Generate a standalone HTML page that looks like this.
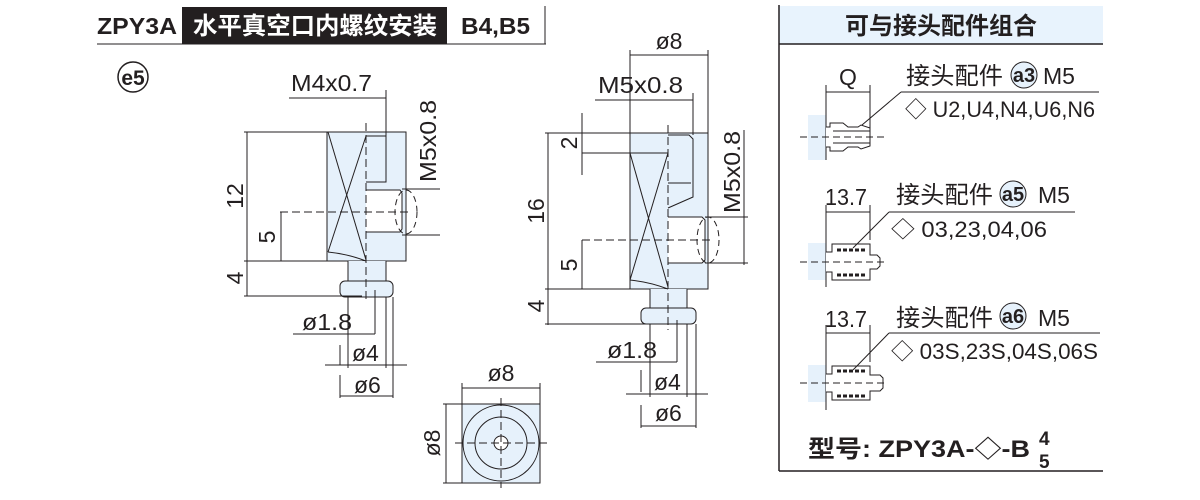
<!DOCTYPE html>
<html><head><meta charset="utf-8"><style>
html,body{margin:0;padding:0;background:#fff;width:1200px;height:500px;overflow:hidden}
svg{display:block}
text{font-family:"Liberation Sans","Noto Sans CJK SC",sans-serif;fill:#231f20}
</style></head><body>
<svg width="1200" height="500" viewBox="0 0 1200 500" xmlns="http://www.w3.org/2000/svg">
<g stroke="#231f20" fill="none" stroke-width="1">
<line x1="97" y1="44" x2="546" y2="44"/>
<line x1="545" y1="6" x2="545" y2="44"/>
</g>
<rect x="182" y="7" width="265" height="37" fill="#231f20"/>
<text x="97" y="34" font-size="23" font-weight="bold" textLength="80" lengthAdjust="spacingAndGlyphs">ZPY3A</text>
<text x="193" y="34" font-size="24" font-weight="bold" style="fill:#fff" textLength="244" lengthAdjust="spacingAndGlyphs">水平真空口内螺纹安装</text>
<text x="461" y="34" font-size="23" font-weight="bold" textLength="69" lengthAdjust="spacingAndGlyphs">B4,B5</text>
<circle cx="133" cy="77" r="15" fill="none" stroke="#231f20" stroke-width="1.5"/>
<text x="133" y="85" font-size="21" font-weight="bold" text-anchor="middle">e5</text>

<!-- Drawing 1 -->
<g stroke="#231f20" stroke-width="1" fill="none">
<rect x="327" y="132" width="79" height="129" fill="#e6f1fb"/>
<rect x="348" y="261" width="38" height="22" fill="#e6f1fb" stroke="none"/>
<line x1="348" y1="261" x2="348" y2="282"/><line x1="386" y1="261" x2="386" y2="282"/>
<rect x="340" y="281" width="53" height="16" rx="5" fill="#e6f1fb"/>
<line x1="328" y1="132" x2="366" y2="260"/><line x1="366" y1="136" x2="328" y2="252"/>
<path d="M328 252 Q348 254 366 261"/>
<path d="M366 136 L386 136 L386 182 L366 182"/>
<path d="M366 190 L400 190 L402 193 L402 229 L400 232 L366 232" fill="#fff"/>
<ellipse cx="406" cy="212" rx="11" ry="22" stroke-dasharray="6,4"/>
<line x1="366" y1="123" x2="366" y2="302" stroke-dasharray="8,4"/>
<line x1="280" y1="212" x2="412" y2="212" stroke-dasharray="8,4"/>
<line x1="247" y1="132" x2="247" y2="296"/>
<line x1="244" y1="132" x2="327" y2="132"/>
<line x1="244" y1="261" x2="340" y2="261"/>
<line x1="244" y1="296" x2="362" y2="296"/>
<line x1="281" y1="212" x2="281" y2="261"/>
<line x1="289" y1="98" x2="386" y2="98"/><line x1="386" y1="90" x2="386" y2="136"/>
<line x1="402" y1="189" x2="440" y2="189"/><line x1="402" y1="235" x2="440" y2="235"/>
<line x1="293" y1="334" x2="375" y2="334"/><line x1="375" y1="290" x2="375" y2="334"/>
<line x1="340" y1="345" x2="340" y2="365"/><line x1="340" y1="375" x2="340" y2="398"/>
<line x1="348" y1="297" x2="348" y2="368"/>
<line x1="386" y1="297" x2="386" y2="368"/>
<line x1="393" y1="297" x2="393" y2="398"/>
<line x1="325" y1="365" x2="407" y2="365"/>
<line x1="340" y1="396" x2="393" y2="396"/>
</g>
<text x="291" y="91" font-size="23" textLength="81" lengthAdjust="spacingAndGlyphs">M4x0.7</text>
<text font-size="23" transform="translate(243,196) rotate(-90)" text-anchor="middle">12</text>
<text font-size="23" transform="translate(275,237) rotate(-90)" text-anchor="middle">5</text>
<text font-size="23" transform="translate(243,278) rotate(-90)" text-anchor="middle">4</text>
<text font-size="23" transform="translate(436,141) rotate(-90)" text-anchor="middle" textLength="82" lengthAdjust="spacingAndGlyphs">M5x0.8</text>
<text x="302" y="330" font-size="23" textLength="50" lengthAdjust="spacingAndGlyphs">ø1.8</text>
<text x="352" y="361" font-size="23">ø4</text>
<text x="354" y="393" font-size="23">ø6</text>

<!-- Drawing 2 -->
<g stroke="#231f20" stroke-width="1" fill="none">
<rect x="630" y="133" width="78" height="156" fill="#e6f1fb"/>
<rect x="650" y="289" width="37" height="21" fill="#e6f1fb" stroke="none"/>
<line x1="650" y1="289" x2="650" y2="309"/><line x1="687" y1="289" x2="687" y2="309"/>
<rect x="641" y="308" width="55" height="16" rx="5" fill="#e6f1fb"/>
<line x1="582" y1="153" x2="668" y2="153"/>
<line x1="630" y1="153" x2="668" y2="287"/><line x1="668" y1="153" x2="630" y2="280"/>
<path d="M630 280 Q650 282 668 289"/>
<path d="M668 135 L689 135 L693 139 L693 197 L668 208"/>
<line x1="668" y1="183" x2="691" y2="183"/>
<path d="M668 217 L702 217 L705 220 L705 260 L702 263 L668 263" fill="#fff"/>
<ellipse cx="708" cy="240" rx="11" ry="23" stroke-dasharray="6,4"/>
<line x1="668" y1="125" x2="668" y2="330" stroke-dasharray="8,4"/>
<line x1="582" y1="240" x2="714" y2="240" stroke-dasharray="8,4"/>
<line x1="548" y1="133" x2="548" y2="325"/>
<line x1="545" y1="133" x2="630" y2="133"/>
<line x1="545" y1="289" x2="641" y2="289"/>
<line x1="545" y1="324" x2="660" y2="324"/>
<line x1="582" y1="113" x2="582" y2="175"/>
<line x1="582" y1="240" x2="582" y2="289"/>
<line x1="630" y1="55" x2="708" y2="55"/><line x1="630" y1="50" x2="630" y2="133"/><line x1="708" y1="50" x2="708" y2="133"/>
<line x1="595" y1="100" x2="693" y2="100"/><line x1="693" y1="93" x2="693" y2="135"/>
<line x1="744" y1="130" x2="744" y2="265"/>
<line x1="705" y1="217" x2="748" y2="217"/><line x1="705" y1="263" x2="748" y2="263"/>
<line x1="596" y1="362" x2="677" y2="362"/><line x1="677" y1="320" x2="677" y2="362"/>
<line x1="641" y1="370" x2="641" y2="392"/><line x1="641" y1="405" x2="641" y2="428"/>
<line x1="650" y1="324" x2="650" y2="397"/>
<line x1="687" y1="324" x2="687" y2="397"/>
<line x1="696" y1="324" x2="696" y2="428"/>
<line x1="626" y1="394" x2="708" y2="394"/>
<line x1="641" y1="426" x2="696" y2="426"/>
</g>
<text x="669" y="49" font-size="23" text-anchor="middle">ø8</text>
<text x="598" y="93" font-size="23" textLength="85" lengthAdjust="spacingAndGlyphs">M5x0.8</text>
<text font-size="23" transform="translate(577,143) rotate(-90)" text-anchor="middle">2</text>
<text font-size="23" transform="translate(544,211) rotate(-90)" text-anchor="middle">16</text>
<text font-size="23" transform="translate(577,265) rotate(-90)" text-anchor="middle">5</text>
<text font-size="23" transform="translate(544,306) rotate(-90)" text-anchor="middle">4</text>
<text font-size="23" transform="translate(740,172) rotate(-90)" text-anchor="middle" textLength="82" lengthAdjust="spacingAndGlyphs">M5x0.8</text>
<text x="607" y="358" font-size="23" textLength="50" lengthAdjust="spacingAndGlyphs">ø1.8</text>
<text x="654" y="390" font-size="23">ø4</text>
<text x="655" y="421" font-size="23">ø6</text>

<!-- Top view -->
<g stroke="#231f20" stroke-width="1" fill="none">
<rect x="462" y="404" width="78" height="79" fill="#e6f1fb"/>
<circle cx="501" cy="443" r="38"/>
<circle cx="501" cy="443" r="26"/>
<circle cx="501" cy="443" r="7" fill="#fff"/>
<line x1="455" y1="443" x2="547" y2="443" stroke-dasharray="8,4"/>
<line x1="501" y1="398" x2="501" y2="488" stroke-dasharray="8,4"/>
<line x1="462" y1="388" x2="540" y2="388"/><line x1="462" y1="383" x2="462" y2="404"/><line x1="540" y1="383" x2="540" y2="404"/>
<line x1="446" y1="404" x2="446" y2="483"/><line x1="443" y1="404" x2="462" y2="404"/><line x1="443" y1="483" x2="462" y2="483"/>
</g>
<text x="501" y="381" font-size="23" text-anchor="middle">ø8</text>
<text font-size="23" transform="translate(440,443) rotate(-90)" text-anchor="middle">ø8</text>

<!-- Right panel -->
<rect x="779" y="6" width="324" height="38" fill="#e8f3fd"/>
<g stroke="#231f20" fill="none">
<line x1="779" y1="5" x2="779" y2="471" stroke-width="1.5"/>
<line x1="779" y1="44" x2="1103" y2="44" stroke-width="1.5"/>
<line x1="779" y1="471" x2="1103" y2="471" stroke-width="1.5"/>
</g>
<text x="941" y="34" font-size="24" font-weight="bold" text-anchor="middle">可与接头配件组合</text>

<g stroke="#231f20" stroke-width="1" fill="none">
<rect x="808" y="115" width="18" height="45" fill="#e6f1fb" stroke="none"/>
<line x1="826" y1="85" x2="826" y2="160"/><line x1="870" y1="85" x2="870" y2="130"/>
<line x1="826" y1="92" x2="870" y2="92"/>
<path d="M826 127 L830 127 L830 123 L843 123 L848 127 L858 127 L861 125 L870 128 L870 146 L861 149 L858 147 L848 147 L843 151 L830 151 L830 147 L826 147" fill="#fff"/>
<line x1="833" y1="131" x2="870" y2="131"/><line x1="833" y1="143" x2="870" y2="143"/>
<line x1="800" y1="137" x2="885" y2="137" stroke-dasharray="7,4"/>
<line x1="862" y1="125" x2="901" y2="92"/><line x1="901" y1="92" x2="1099" y2="92"/>
<rect x="808" y="243" width="18" height="37" fill="#e6f1fb" stroke="none"/>
<line x1="826" y1="205" x2="826" y2="287"/><line x1="870" y1="205" x2="870" y2="240"/>
<line x1="826" y1="212" x2="870" y2="212"/>
<path d="M826 252 L832 252 L832 244 L870 244 L870 255 L877 255 L880 258 L880 266 L877 269 L870 269 L870 280 L832 280 L832 272 L826 272" fill="#fff"/>
<line x1="837" y1="250" x2="866" y2="250" stroke-width="3" stroke-dasharray="4,2"/>
<line x1="837" y1="275" x2="866" y2="275" stroke-width="3" stroke-dasharray="4,2"/>
<line x1="800" y1="262" x2="885" y2="262" stroke-dasharray="7,4"/>
<line x1="853" y1="248" x2="889" y2="212"/><line x1="889" y1="212" x2="1075" y2="212"/>
<rect x="808" y="365" width="18" height="37" fill="#e6f1fb" stroke="none"/>
<line x1="826" y1="325" x2="826" y2="410"/><line x1="870" y1="325" x2="870" y2="362"/>
<line x1="826" y1="333" x2="870" y2="333"/>
<path d="M826 374 L832 374 L832 366 L870 366 L870 375 L880 375 L883 378 L883 388 L880 391 L870 391 L870 400 L832 400 L832 392 L826 392" fill="#fff"/>
<line x1="837" y1="371" x2="866" y2="371" stroke-width="3" stroke-dasharray="4,2"/>
<line x1="837" y1="396" x2="866" y2="396" stroke-width="3" stroke-dasharray="4,2"/>
<line x1="800" y1="383" x2="885" y2="383" stroke-dasharray="7,4"/>
<line x1="853" y1="370" x2="889" y2="333"/><line x1="889" y1="333" x2="1100" y2="333"/>
<circle cx="1024" cy="75" r="13" fill="#e6f1fb"/>
<circle cx="1013" cy="194" r="13" fill="#e6f1fb"/>
<circle cx="1013" cy="316" r="13" fill="#e6f1fb"/>
</g>
<text x="848" y="85" font-size="23" text-anchor="middle">Q</text>
<text x="906" y="84" font-size="24" textLength="97" lengthAdjust="spacingAndGlyphs">接头配件</text>
<text x="1024" y="82" font-size="20" font-weight="bold" text-anchor="middle">a3</text>
<text x="1043" y="84" font-size="23">M5</text>
<text x="905" y="117" font-size="22" textLength="190" lengthAdjust="spacingAndGlyphs">◇ U2,U4,N4,U6,N6</text>
<text x="825" y="205" font-size="23" textLength="42" lengthAdjust="spacingAndGlyphs">13.7</text>
<text x="896" y="203" font-size="24" textLength="97" lengthAdjust="spacingAndGlyphs">接头配件</text>
<text x="1013" y="201" font-size="20" font-weight="bold" text-anchor="middle">a5</text>
<text x="1038" y="203" font-size="23">M5</text>
<text x="891" y="237" font-size="22" textLength="156" lengthAdjust="spacingAndGlyphs">◇ 03,23,04,06</text>
<text x="825" y="327" font-size="23" textLength="42" lengthAdjust="spacingAndGlyphs">13.7</text>
<text x="896" y="326" font-size="24" textLength="97" lengthAdjust="spacingAndGlyphs">接头配件</text>
<text x="1013" y="323" font-size="20" font-weight="bold" text-anchor="middle">a6</text>
<text x="1038" y="326" font-size="23">M5</text>
<text x="891" y="359" font-size="22" textLength="207" lengthAdjust="spacingAndGlyphs">◇ 03S,23S,04S,06S</text>
<text x="808" y="457" font-size="24" font-weight="bold" textLength="222" lengthAdjust="spacingAndGlyphs">型号: ZPY3A-◇-B</text>
<text x="1039" y="445" font-size="19" font-weight="bold">4</text>
<text x="1039" y="468" font-size="19" font-weight="bold">5</text>
</svg>
</body></html>
